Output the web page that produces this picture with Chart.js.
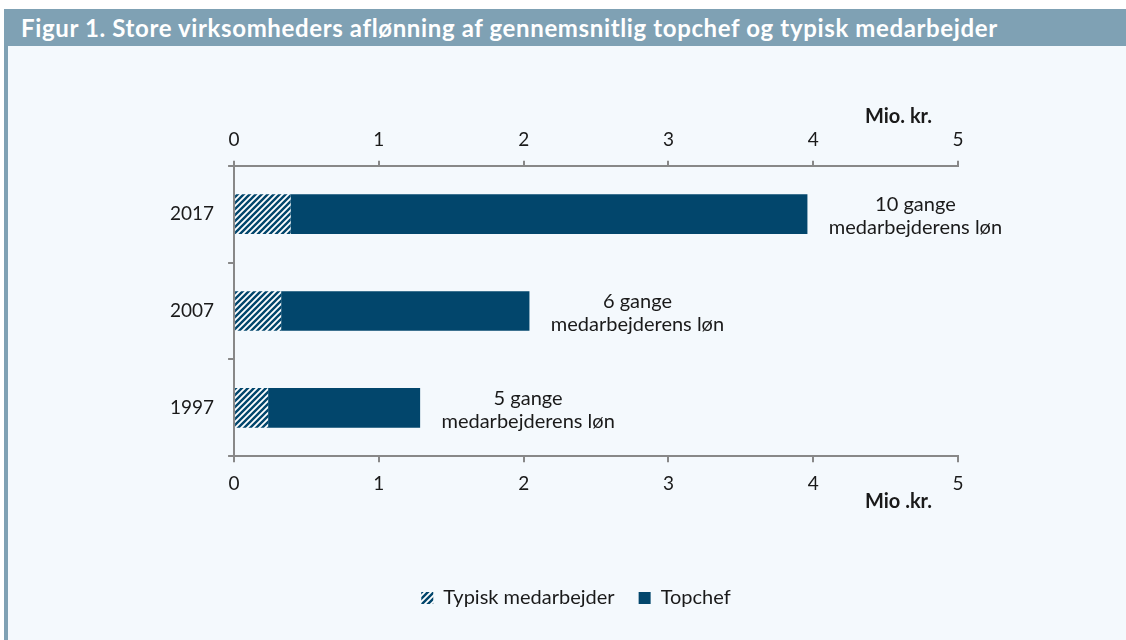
<!DOCTYPE html>
<html>
<head>
<meta charset="utf-8">
<script src="https://cdn.jsdelivr.net/npm/chart.js@4.4.1/dist/chart.umd.min.js"></script>
<style>
  html, body { margin: 0; padding: 0; background: #fff; }
  #page { position: relative; width: 1126px; height: 640px; overflow: hidden; }
  #titlebar {
    position: absolute; left: 4px; top: 9px; width: 1122px; height: 37px;
    background: #7fa1b4; color: #fff; font-family: Lato, sans-serif;
    font-weight: bold; font-size: 24px; letter-spacing: 0.63px; line-height: 37px;
    box-sizing: border-box; padding-left: 17px; white-space: nowrap;
  }
  #panel { position: absolute; left: 8px; top: 46px; width: 1118px; height: 594px; background: #f4f9fd; }
  #strip { position: absolute; left: 4px; top: 46px; width: 4px; height: 594px; background: #7fa1b4; }
  #wrap { position: absolute; left: 0; top: 0; width: 1126px; height: 640px; }
</style>
</head>
<body>
<div id="page">
  <div id="titlebar">Figur 1. Store virksomheders aflønning af gennemsnitlig topchef og typisk medarbejder</div>
  <div id="panel"></div>
  <div id="strip"></div>
  <div id="wrap"><canvas id="chart" width="1126" height="640"></canvas></div>
</div>
<script>
// data (mio. kr.)
const years = ['2017', '2007', '1997'];
const typisk = [0.39, 0.325, 0.235];
const topchef = [3.57, 1.715, 1.05];
const noteTop = ['10 gange', '6 gange', '5 gange'];
const noteBottom = ['medarbejderens løn', 'medarbejderens løn', 'medarbejderens løn'];
const xTicks = [0, 1, 2, 3, 4, 5];

const navy = '#02466c';
const axisGray = '#888888';
const textColor = '#1a1a1a';
const fontFam = 'Lato, sans-serif';

// hatch pattern for typisk medarbejder
function makeHatch() {
  const c = document.createElement('canvas');
  c.width = 6; c.height = 6;
  const g = c.getContext('2d');
  g.fillStyle = '#ffffff';
  g.fillRect(0, 0, 6, 6);
  g.strokeStyle = navy;
  g.lineWidth = 2.4;
  g.beginPath();
  g.moveTo(-3, 3); g.lineTo(3, -3);
  g.moveTo(0, 6); g.lineTo(6, 0);
  g.moveTo(3, 9); g.lineTo(9, 3);
  g.stroke();
  return g.createPattern(c, 'repeat');
}
const hatch = makeHatch();

// text next to bars + axis unit labels
const notesPlugin = {
  id: 'notes',
  beforeDraw(chart) {
    // legend sits a bit right of the plot centre in the original
    if (chart.legend) { chart.legend.left += 19; chart.legend.right += 19; }
  },
  afterDraw(chart) {
    const ctx = chart.ctx;
    const xs = chart.scales.x;
    const ys = chart.scales.y;
    ctx.save();
    ctx.fillStyle = textColor;
    ctx.font = '20px ' + fontFam;
    ctx.textAlign = 'center';
    ctx.textBaseline = 'middle';
    years.forEach((y, i) => {
      const px = xs.getPixelForValue(typisk[i] + topchef[i]) + 108;
      const py = ys.getPixelForValue(i) + 2;
      ctx.fillText(noteTop[i], px, py - 11.5);
      ctx.fillText(noteBottom[i], px, py + 11.5);
    });
    ctx.font = 'bold 20px ' + fontFam;
    ctx.textAlign = 'right';
    ctx.textBaseline = 'alphabetic';
    ctx.fillText('Mio. kr.', 932, 123);
    ctx.fillText('Mio .kr.', 932, 508);
    ctx.restore();
  }
};

const ctx = document.getElementById('chart').getContext('2d');
new Chart(ctx, {
  type: 'bar',
  data: {
    labels: years,
    datasets: [
      { label: 'Typisk medarbejder', data: typisk, backgroundColor: hatch, borderWidth: 0,
        barPercentage: 0.41, categoryPercentage: 1 },
      { label: 'Topchef', data: topchef, backgroundColor: navy, borderWidth: 0,
        barPercentage: 0.41, categoryPercentage: 1 }
    ]
  },
  options: {
    indexAxis: 'y',
    responsive: false,
    animation: false,
    layout: { padding: { left: 156, right: 168, top: 118, bottom: 22 } },
    plugins: {
      tooltip: { enabled: false },
      legend: {
        position: 'bottom',
        labels: { boxWidth: 12, boxHeight: 12, padding: 24, color: textColor,
          font: { family: fontFam, size: 20 } }
      }
    },
    scales: {
      x: {
        stacked: true, position: 'bottom', min: 0, max: 5,
        afterBuildTicks(axis) { axis.ticks = xTicks.map(v => ({ value: v })); },
        afterFit(axis) { axis.height += 59; },
        grid: { display: true, drawOnChartArea: false, drawTicks: true, tickLength: 6, color: axisGray, lineWidth: 2 },
        border: { display: true, color: axisGray, width: 2 },
        ticks: { padding: 10, color: textColor, font: { family: fontFam, size: 19 } }
      },
      x2: {
        position: 'top', min: 0, max: 5,
        afterBuildTicks(axis) { axis.ticks = xTicks.map(v => ({ value: v })); },
        grid: { display: true, drawOnChartArea: false, drawTicks: true, tickLength: 5, color: axisGray, lineWidth: 2 },
        border: { display: true, color: axisGray, width: 2 },
        ticks: { padding: 10, color: textColor, font: { family: fontFam, size: 19 } }
      },
      y: {
        stacked: true,
        grid: { display: true, offset: true, drawOnChartArea: false, drawTicks: true, tickLength: 6, color: axisGray, lineWidth: 2 },
        border: { display: true, color: axisGray, width: 2 },
        ticks: { padding: 14, color: textColor, font: { family: fontFam, size: 19 } }
      }
    }
  },
  plugins: [notesPlugin]
});
</script>
</body>
</html>
